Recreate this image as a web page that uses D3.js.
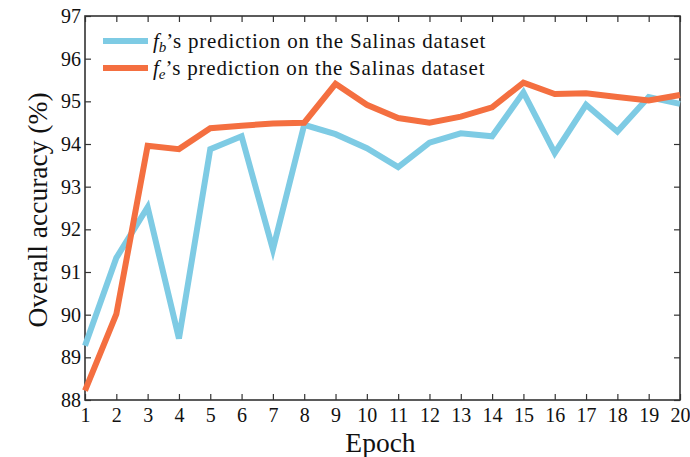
<!DOCTYPE html>
<html>
<head>
<meta charset="utf-8">
<script src="https://cdn.jsdelivr.net/npm/d3@7"></script>
<style>
  body { margin: 0; background: #fff; }
</style>
</head>
<body>
<svg id="chart" width="690" height="457"></svg>
<script>
const epochs = d3.range(1, 21);
const fbAcc = [89.27, 91.33, 92.52, 89.44, 93.88, 94.18, 91.53, 94.45, 94.23, 93.90,
  93.46, 94.03, 94.25, 94.18, 95.21, 93.79, 94.92, 94.29, 95.10, 94.94];
const feAcc = [88.22, 90.01, 93.96, 93.88, 94.37, 94.43, 94.48, 94.50, 95.41, 94.92,
  94.61, 94.50, 94.64, 94.86, 95.44, 95.17, 95.19, 95.10, 95.02, 95.15];
const yTicks = d3.range(88, 98);

const serif = '"Liberation Serif", serif';
const margin = { top: 16, right: 10, bottom: 57, left: 85 };
const width = 690 - margin.left - margin.right;
const height = 457 - margin.top - margin.bottom;

const svg = d3.select("#chart");
const root = svg.append("g").attr("transform", `translate(${margin.left},${margin.top})`);

const x = d3.scaleLinear().domain([1, 20]).range([0, width]);
const y = d3.scaleLinear().domain([88, 97]).range([height, 0]);

// Axes, ticks pointing inward, mirrored on top and right
const styleAxis = (g) => {
  g.attr("font-family", null);
  g.select(".domain").remove();
  g.selectAll(".tick line").attr("stroke", "#333").attr("stroke-width", 1.2);
  g.selectAll("text").style("font-family", serif).attr("font-size", 20).attr("fill", "#111");
};
root.append("g")
  .attr("transform", `translate(0,${height})`)
  .call(d3.axisBottom(x).tickValues(epochs).tickSizeInner(-6).tickSizeOuter(0).tickPadding(8))
  .call(styleAxis)
  .selectAll("text").attr("dy", "0.71em");
root.append("g")
  .call(d3.axisTop(x).tickValues(epochs).tickSizeInner(-6).tickSizeOuter(0).tickFormat(""))
  .call(styleAxis);
root.append("g")
  .call(d3.axisLeft(y).tickValues(yTicks).tickSizeInner(-6).tickSizeOuter(0).tickPadding(4))
  .call(styleAxis);
root.append("g")
  .attr("transform", `translate(${width},0)`)
  .call(d3.axisRight(y).tickValues(yTicks).tickSizeInner(-6).tickSizeOuter(0).tickFormat(""))
  .call(styleAxis);
root.append("rect")
  .attr("width", width).attr("height", height)
  .attr("fill", "none").attr("stroke", "#333").attr("stroke-width", 1.6);

// Lines
const line = (vals) => d3.line().x((d, i) => x(epochs[i])).y((d) => y(d))(vals);
const series = [
  { name: "b", vals: fbAcc, color: "#7ecbe4" },
  { name: "e", vals: feAcc, color: "#f46f40" },
];
root.selectAll("path.series")
  .data(series)
  .enter()
  .append("path")
  .attr("class", "series")
  .attr("d", (d) => line(d.vals))
  .attr("fill", "none")
  .attr("stroke", (d) => d.color)
  .attr("stroke-width", 6)
  .attr("stroke-linejoin", "miter");

// Legend
const legend = root.append("g").attr("transform", "translate(18,25)");
series.forEach((s, i) => {
  const g = legend.append("g").attr("transform", `translate(0,${i * 27})`);
  g.append("line").attr("x1", 0).attr("x2", 45).attr("stroke", s.color).attr("stroke-width", 6);
  const t = g.append("text").attr("x", 50).attr("y", 7)
    .style("font-family", serif).attr("font-size", 21).attr("fill", "#111");
  t.append("tspan").attr("font-style", "italic").text("f");
  t.append("tspan").attr("font-style", "italic").attr("font-size", 15).attr("dy", 4).text(s.name);
  t.append("tspan").attr("dy", -4).style("letter-spacing", "0.8px")
    .text("\u2019s prediction on the Salinas dataset");
});

// Axis titles
svg.append("text")
  .attr("x", margin.left + width / 2 - 2).attr("y", 452)
  .attr("text-anchor", "middle").attr("font-size", 27.5)
  .style("font-family", serif).attr("fill", "#111")
  .text("Epoch");
svg.append("text")
  .attr("transform", `translate(47,${margin.top + height / 2 + 2}) rotate(-90)`)
  .attr("text-anchor", "middle").attr("font-size", 27.5)
  .style("font-family", serif).attr("fill", "#111")
  .text("Overall accuracy (%)");
</script>
</body>
</html>
